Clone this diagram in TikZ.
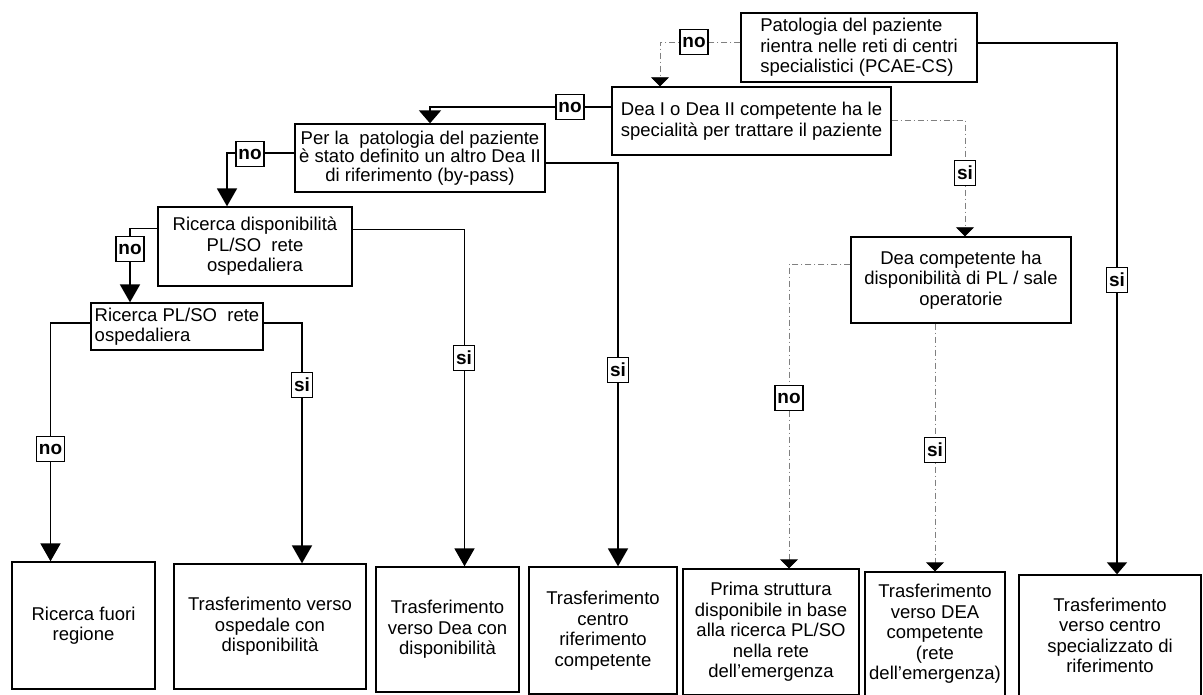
\documentclass[tikz,border=0pt]{standalone}
\usepackage{fontspec}
\setmainfont{Liberation Sans}
\usepackage{tikz}
\usetikzlibrary{arrows.meta}

\begin{document}
\begin{tikzpicture}[x=1pt,y=-1pt
  ,>={Triangle[width=20pt,length=18pt]}
  ,line width=1.8pt
  ,font=\fontsize{18.5}{20.5}\selectfont]
  \tikzstyle{box}=[draw,line width=1.3pt,inner sep=0pt,align=center]
  \tikzstyle{lbl}=[draw,line width=1.3pt,fill=white,inner xsep=2.5pt,
  inner ysep=0pt,minimum height=25pt,font=\fontsize{19}{20}\selectfont\bfseries]
  \tikzstyle{dotline}=[gray,line width=0.8pt
  ,dash pattern=on 6pt off 3pt on 1pt off 3pt
  ,>={Triangle[width=18pt,length=9pt,color=black]}]

  \useasboundingbox (0,0) rectangle (1203,695);

  % questions
  \node[box,minimum width=236pt,minimum height=69pt,align=left] (pcs) at (859,47.5)
  {Patologia del paziente\\rientra nelle reti di centri\\specialistici (PCAE-CS)};
  \node[box,minimum width=279pt,minimum height=68pt,align=left] (dea) at (751.5,121)
  {Dea I o Dea II competente ha le\\specialità per trattare il paziente};
  \node[box,minimum width=250pt,minimum height=68pt
  ,font=\fontsize{18.5}{18.5}\selectfont] (byp) at (420,158)
  {Per la~ patologia del paziente\\è stato definito un altro Dea II\\di riferimento (by-pass)};
  \node[box,minimum width=194pt,minimum height=79pt] (rdp) at (255,246.5)
  {Ricerca disponibilità\\PL/SO~ rete\\ospedaliera};
  \node[box,minimum width=172pt,minimum height=47pt,align=left] (rpl) at (177,326.5)
  {Ricerca PL/SO~ rete\\ospedaliera};
  \node[box,minimum width=220pt,minimum height=86pt] (dcd) at (961,280)
  {Dea competente ha\\disponibilità di PL / sale\\operatorie};

  % 7 outcomes bottom row
  \node[box,minimum width=143pt,minimum height=127pt] (fuori) at (83.5,625.5)
  {Ricerca fuori\\regione};
  \node[box,minimum width=192pt,minimum height=125pt] (tosp) at (270,626.5)
  {Trasferimento verso\\ospedale con\\disponibilità};
  \node[box,minimum width=143pt,minimum height=125pt] (tdea) at (447.5,629.5)
  {Trasferimento\\verso Dea con\\disponibilità};
  \node[box,minimum width=148pt,minimum height=127pt] (tcen) at (603,630.5)
  {Trasferimento\\centro\\riferimento\\competente};
  \node[box,minimum width=176pt,minimum height=126pt] (prima) at (771,632)
  {Prima struttura\\disponibile in base\\alla ricerca PL/SO\\nella rete\\dell'emergenza};
  \node[box,minimum width=140pt,minimum height=124pt] (tdeac) at (935,634)
  {Trasferimento\\verso DEA\\competente\\(rete\\dell'emergenza)};
  \node[box,minimum width=182pt,minimum height=121pt] (tspec) at (1110,635.5)
  {Trasferimento\\verso centro\\specializzato di\\riferimento};

  % solid connectors
  \draw[->,>={Triangle[width=20pt,length=12pt]}]
  ([yshift=4.5pt]pcs.east) -| ([xshift=7pt]tspec.north);
  \draw[->,>={Triangle[width=22pt,length=13pt]}]
  ([yshift=14pt]dea.west) -| ([xshift=10pt]byp.north);
  \draw[->] ([yshift=5pt]byp.west) -| ([xshift=-28pt]rdp.north);
  \draw[->] ([yshift=-5pt]byp.east) -| ([xshift=15pt]tcen.north);
  \draw[->] ([yshift=18pt]rdp.west) -| ([xshift=-47pt]rpl.north);
  \draw[->] ([yshift=17pt]rdp.east) -| ([xshift=17pt]tdea.north);
  \draw[->] ([yshift=3.5pt]rpl.west) -| ([xshift=-33pt]fuori.north);
  \draw[->] ([yshift=3.5pt]rpl.east) -| ([xshift=32pt]tosp.north);

  % dotted connectors
  \draw[dotline,->] ([yshift=5.5pt]pcs.west) -| ([xshift=-91.5pt]dea.north);
  \draw[dotline,->] ([yshift=1pt]dea.east) -| ([xshift=4pt]dcd.north);
  \draw[dotline,->] ([yshift=16pt]dcd.west) -| ([xshift=18pt]prima.north);
  \draw[dotline,->] ([xshift=-26pt]dcd.south) -- (tdeac.north);

  % si / no
  \node[lbl] (no1) at (694,42) {no};
  \node[lbl] (si1) at (1117,280) {si};
  \node[lbl] (no2) at (570,107) {no};
  \node[lbl] (si2) at (965,173) {si};
  \node[lbl] (no3) at (250,154) {no};
  \node[lbl] (si3) at (618,370) {si};
  \node[lbl] (no4) at (130,249) {no};
  \node[lbl] (si4) at (464,358) {si};
  \node[lbl] (no5) at (50.5,449) {no};
  \node[lbl] (si5) at (302,385) {si};
  \node[lbl] (no6) at (789,398) {no};
  \node[lbl] (si6) at (935,450) {si};

\end{tikzpicture}
\end{document}
